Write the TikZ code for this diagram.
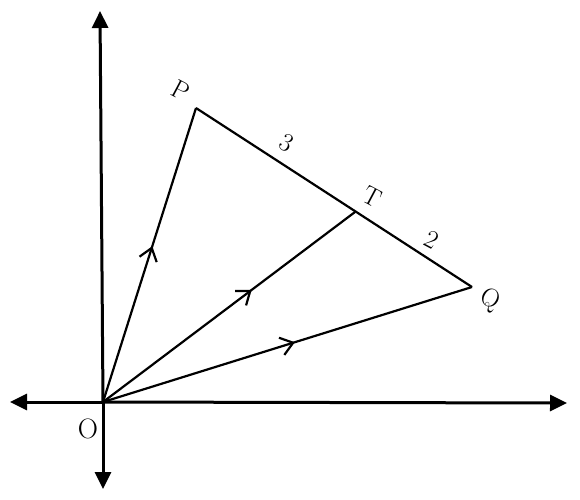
\documentclass[tikz,border=0pt]{standalone}
\usetikzlibrary{arrows.meta,decorations.markings}
\begin{document}
\begin{tikzpicture}[x=1pt,y=-1pt,
  axis/.style={line width=3pt,-{Triangle[length=17pt,width=16pt]}},
  seg/.style={line width=2.2pt},
  vec/.style={seg,postaction={decorate},decoration={markings,
     mark=at position #1 with {\arrow{Straight Barb[length=12pt,width=18pt,line width=2.2pt]}}}},
  lab/.style={font=\fontsize{26}{28}\selectfont,rotate=-28,inner sep=1pt}]
\useasboundingbox (0,0) rectangle (580,499);
\coordinate (O) at (103,402);
\coordinate (P) at (196,108);
\coordinate (Q) at (472,287);
\coordinate (T) at (355,212);
\coordinate (xl) at (10,402);
\coordinate (xr) at (567,403);
\coordinate (yt) at (100,11);
\coordinate (yb) at (103,489);
\draw[axis] (O) -- (xl);
\draw[axis] (O) -- (xr);
\draw[axis] (O) -- (yt);
\draw[axis] (O) -- (yb);
\draw[seg] (P) -- (Q);
\draw[vec=0.53] (O) -- (P);
\draw[vec=0.59] (O) -- (T);
\draw[vec=0.52] (O) -- (Q);
\node[lab] (lP) at (181,90) {P};
\node[lab] (l3) at (287,143) {3};
\node[lab] (lT) at (372,197) {T};
\node[lab] (l2) at (432,240) {2};
\node[lab] (lQ) at (490,300) {Q};
\node[font=\fontsize{28}{30}\selectfont] (lO) at (88,429) {O};
\end{tikzpicture}
\end{document}
